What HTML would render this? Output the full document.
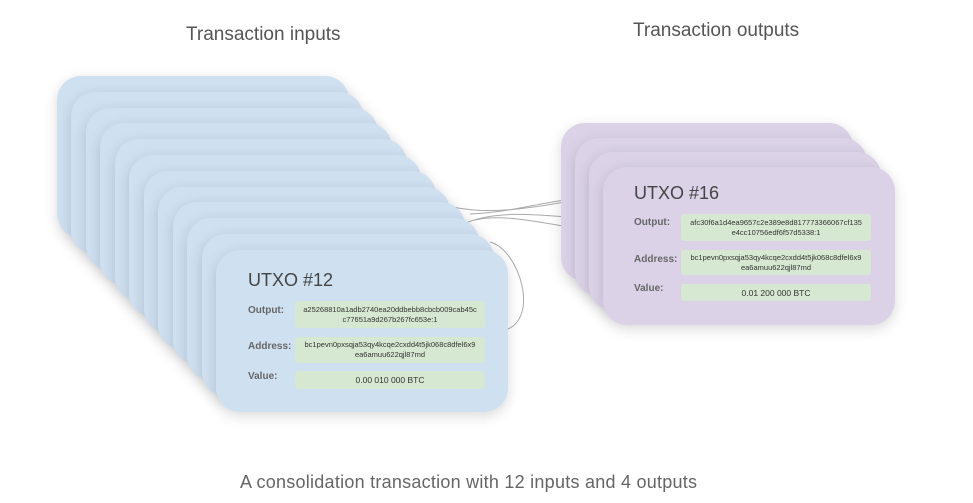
<!DOCTYPE html>
<html><head><style>
body{margin:0;width:973px;height:503px;background:#fff;position:relative;overflow:hidden;font-family:"Liberation Sans",sans-serif;}
.c{position:absolute;width:292px;height:162px;border-radius:24px;background:#cfe0f1;box-shadow:0 4px 14px rgba(0,0,0,0.15);}
.o{background:#dbd2e8;height:158px;}
.t{position:absolute;font-size:18px;color:#444;white-space:nowrap;}
.l{position:absolute;font-size:10px;font-weight:bold;color:#666;white-space:nowrap;}
.g{position:absolute;width:190px;background:#d7e8d2;border-radius:3px;font-size:7.5px;color:#333;text-align:center;line-height:10px;display:flex;align-items:center;justify-content:center;}
.h{position:absolute;font-size:19px;color:#555;white-space:nowrap;}
</style></head><body>
<div class="h" style="left:186px;top:24px">Transaction inputs</div>
<div class="h" style="left:633px;top:20px">Transaction outputs</div>
<div class="h" style="left:240px;top:472px;font-size:18px;color:#666;letter-spacing:0.25px">A consolidation transaction with 12 inputs and 4 outputs</div>
<svg style="position:absolute;left:0;top:0;z-index:0" width="973" height="503"><g fill="none" stroke="#aaa" stroke-width="1">
<path d="M445 205 C480 215,520 210,565 202"/>
<path d="M470 214 C510 212,530 205,565 200"/>
<path d="M468 222 C500 210,540 215,580 218"/>
<path d="M475 220 C510 212,560 228,605 232"/>
<path d="M505 330 C540 320,520 250,490 242"/>
</g></svg>
<div id="in"></div><div id="out"></div>
<script>
var s='';
for(var i=0;i<12;i++){var x=57+i*14.45,y=76+i*15.8;s+='<div class="c" style="left:'+x+'px;top:'+y+'px;z-index:'+(i+1)+'"></div>';}
document.getElementById('in').innerHTML=s;s='';
for(var i=0;i<4;i++){var x=561+i*14,y=123+i*14.7;s+='<div class="c o" style="left:'+x+'px;top:'+y+'px;z-index:'+(i+1)+'"></div>';}
document.getElementById('out').innerHTML=s;
</script>
<div style="position:absolute;left:0;top:0;z-index:20">
<div class="t" style="left:248px;top:270px">UTXO #12</div>
<div class="l" style="left:248px;top:305px">Output:</div>
<div class="g" style="left:295px;top:301px;height:27px">a25268810a1adb2740ea20ddbebb8cbcb009cab45c<br>c77651a9d267b267fc653e:1</div>
<div class="l" style="left:248px;top:341px">Address:</div>
<div class="g" style="left:295px;top:337px;height:26px">bc1pevn0pxsqja53qy4kcqe2cxdd4t5jk068c8dfel6x9<br>ea6amuu622qjl87md</div>
<div class="l" style="left:248px;top:371px">Value:</div>
<div class="g" style="left:295px;top:371px;height:18px;font-size:8.5px">0.00 010 000 BTC</div>
<div class="t" style="left:634px;top:183px">UTXO #16</div>
<div class="l" style="left:634px;top:217px">Output:</div>
<div class="g" style="left:681px;top:214px;height:27px">afc30f6a1d4ea9657c2e389e8d817773366067cf135<br>e4cc10756edf6f57d5338:1</div>
<div class="l" style="left:634px;top:254px">Address:</div>
<div class="g" style="left:681px;top:250px;height:25px">bc1pevn0pxsqja53qy4kcqe2cxdd4t5jk068c8dfel6x9<br>ea6amuu622qjl87md</div>
<div class="l" style="left:634px;top:283px">Value:</div>
<div class="g" style="left:681px;top:284px;height:17px;font-size:8.5px">0.01 200 000 BTC</div>
</div>
</body></html>
